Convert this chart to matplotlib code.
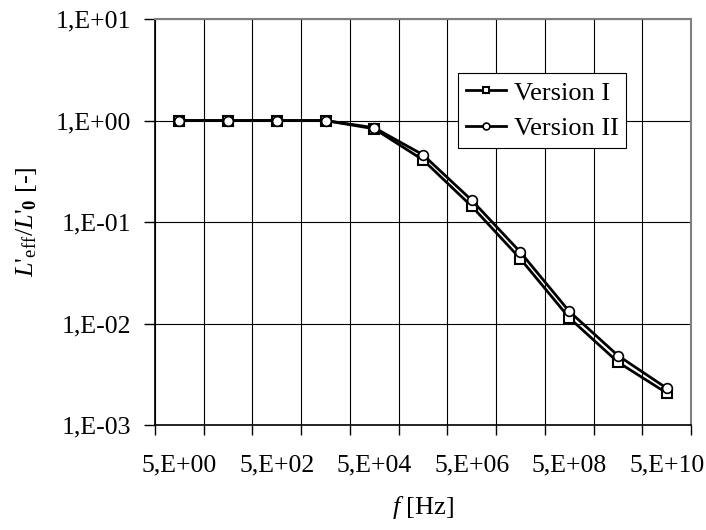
import numpy as np
import matplotlib
matplotlib.use('Agg')
import matplotlib.pyplot as plt
from matplotlib.ticker import FixedLocator, NullLocator

plt.rcParams['font.family'] = 'Liberation Serif'
plt.rcParams['mathtext.fontset'] = 'custom'
plt.rcParams['mathtext.rm'] = 'Liberation Serif'
plt.rcParams['mathtext.it'] = 'Liberation Serif:italic'
plt.rcParams['mathtext.bf'] = 'Liberation Serif:bold'

freqs = ['5,E+00', '5,E+01', '5,E+02', '5,E+03', '5,E+04', '5,E+05',
         '5,E+06', '5,E+07', '5,E+08', '5,E+09', '5,E+10']
version1 = [1.0, 1.0, 1.0, 1.0, 0.83, 0.41, 0.143, 0.0434, 0.0114, 0.00417, 0.00207]
version2 = [1.0, 1.0, 1.0, 1.0, 0.85, 0.46, 0.164, 0.0504, 0.0132, 0.00484, 0.00231]
yticks = [1e-3, 1e-2, 1e-1, 1e0, 1e1]
ylabels = ['1,E-03', '1,E-02', '1,E-01', '1,E+00', '1,E+01']

x = np.arange(len(freqs))

fig = plt.figure(figsize=(7.06, 5.30), dpi=100)
ax = fig.add_axes([0.2195, 0.198, 0.7593, 0.766])

ax.plot(x, version1, color='black', lw=2, marker='s', ms=7,
        mfc='white', mec='black', mew=1.5, label='Version I', zorder=3)
ax.plot(x, version2, color='black', lw=2, marker='o', ms=7,
        mfc='white', mec='black', mew=1.2, label='Version II', zorder=4)

ax.set_yscale('log')
ax.set_ylim(1e-3, 1e1)
ax.set_xlim(-0.5, len(freqs) - 0.5)

# category boundaries carry the tick marks and gridlines
ax.xaxis.set_major_locator(FixedLocator(np.arange(-0.5, len(freqs), 1.0)))
ax.xaxis.set_major_formatter(plt.NullFormatter())
ax.xaxis.set_minor_locator(FixedLocator(x[::2]))
ax.set_xticklabels([freqs[i] for i in x[::2]], minor=True)
ax.tick_params(axis='x', which='major', direction='out', length=7, width=1, color='black')
ax.tick_params(axis='x', which='minor', length=0, pad=21, labelsize=18.5)

ax.yaxis.set_major_locator(FixedLocator(yticks))
ax.set_yticklabels(ylabels)
ax.yaxis.set_minor_locator(NullLocator())
ax.tick_params(axis='y', direction='out', length=8, width=1, color='black', pad=9, labelsize=18.5)

ax.grid(True, which='major', color='black', lw=0.8)
ax.set_axisbelow(True)

for s in ['top', 'right']:
    ax.spines[s].set_color('gray')
    ax.spines[s].set_linewidth(1.5)
for s in ['left', 'bottom']:
    ax.spines[s].set_color('black')
    ax.spines[s].set_linewidth(1.2)

ax.set_xlabel('$f$ [Hz]', fontsize=19, labelpad=13)
ax.set_ylabel(r"$L$'$_{\rm eff}$/$L$'$_{\mathbf{0}}$ [-]", fontsize=19, labelpad=12)

leg = ax.legend(loc='upper left', bbox_to_anchor=(0.649, 0.862),
                bbox_transform=fig.transFigure, fontsize=19, fancybox=False,
                framealpha=1, edgecolor='black', handlelength=1.5,
                handletextpad=0.3, borderpad=0.3, labelspacing=0.45,
                borderaxespad=0, markerscale=0.7)
leg.get_frame().set_linewidth(0.8)

fig.savefig('out.png', dpi=100)
